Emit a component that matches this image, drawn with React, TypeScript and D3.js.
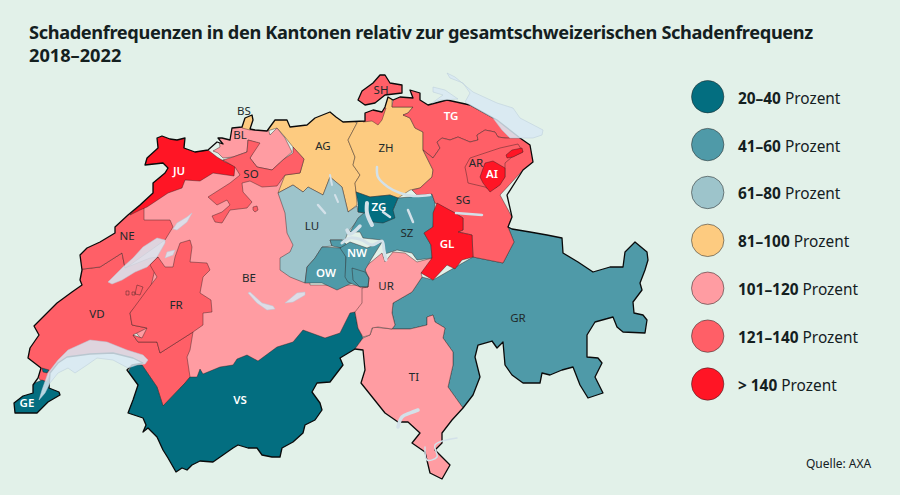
import * as d3 from 'd3';

type Pt = [number, number];

const titleLines = ['Schadenfrequenzen in den Kantonen relativ zur gesamtschweizerischen Schadenfrequenz', '2018–2022'];
const bandLabels = ['20–40', '41–60', '61–80', '81–100', '101–120', '121–140', '> 140'];
const bandColors = ['#036e80', '#4f9aa8', '#9dc4cb', '#fdcb80', '#ff9ca2', '#ff5f67', '#ff1525'];
const source = 'Quelle: AXA';

// traced outlines, in the picture's own units (geoIdentity below)
const country: Pt[] = [
  [140,205],[153,193],[153,183],[165,173],[168,168],[163,163],[145,165],[147,158],[158,148],[157,138],[162,136],[170,139],[177,140],[185,138],[184,148],[195,152],[208,150],[217,142],[223,144],[218,138],[222,138],[230,140],[232,128],[242,127],[245,118],[252,115],[253,120],[250,129],[255,130],[267,131],[275,120],[287,120],[290,127],[307,125],[315,118],[330,112],[336,117],[343,122],[365,121],[365,113],[373,110],[382,112],[385,107],[388,97],[393,100],[400,97],[413,98],[410,90],[420,93],[420,100],[428,105],[447,100],[470,105],[497,120],[520,138],[530,145],[533,162],[523,170],[507,195],[512,217],[508,227],[512,229],[530,232],[547,235],[562,238],[563,253],[578,262],[593,272],[610,267],[623,267],[625,252],[635,242],[647,252],[648,260],[645,270],[640,283],[642,290],[633,302],[634,313],[643,315],[647,320],[645,333],[623,332],[617,327],[613,317],[595,322],[587,335],[587,357],[598,358],[602,363],[595,377],[603,393],[588,398],[580,385],[573,367],[562,370],[550,375],[542,373],[540,383],[523,383],[512,375],[505,365],[503,342],[497,348],[492,341],[478,345],[475,357],[480,377],[473,395],[463,408],[452,420],[442,433],[442,443],[435,450],[442,457],[450,465],[442,479],[430,473],[425,452],[412,443],[420,433],[408,422],[398,422],[385,413],[373,398],[361,383],[365,370],[363,350],[355,349],[340,358],[343,365],[330,382],[317,383],[312,392],[320,403],[322,410],[315,420],[305,425],[303,433],[293,442],[282,448],[280,457],[272,457],[262,455],[257,448],[248,448],[238,445],[233,448],[223,455],[213,462],[200,461],[192,465],[187,470],[182,468],[176,472],[168,458],[163,450],[157,437],[148,428],[143,432],[146,425],[143,418],[128,413],[133,400],[138,385],[127,370],[132,365],[143,363],[133,358],[113,353],[90,354],[67,357],[58,363],[50,373],[49,388],[59,392],[60,395],[48,402],[37,413],[25,413],[15,413],[14,403],[23,396],[33,393],[33,385],[38,378],[41,368],[28,358],[30,348],[39,335],[34,326],[57,303],[72,292],[82,285],[80,280],[82,270],[80,255],[87,248],[100,242],[115,233],[115,227],[128,215],
];
const schaffhausen: Pt[] = [[358,100],[362,91],[373,83],[380,75],[385,75],[390,83],[402,85],[402,93],[385,95],[375,103],[365,105]];

// painted in this order, later cantons cover the rough edges of earlier ones
const cantonNames = ['BE','GR','AG','ZH','LU','VD','NE','FR','VS','TI','UR','SZ','ZG','OW','NW','TG','SG','AR','AI','GL','JU','BL','SO','BS','SH','GE'];
const cantonBand = [4,1,3,3,2,5,5,5,0,4,4,1,0,1,1,5,5,5,6,6,6,4,5,3,5,0];
const cantonRings: Pt[][][] = [
  [[[140,205],[220,160],[300,165],[310,285],[365,285],[370,300],[360,340],[190,400],[110,300]]],
  [[[433,280],[473,257],[503,263],[514,242],[508,227],[700,200],[700,420],[460,420],[463,408],[448,387],[453,365],[453,352],[443,338],[445,328],[435,322],[433,315],[427,317],[427,325],[410,329],[392,329],[395,325],[392,313],[393,303],[412,292],[422,277]]],
  [[[267,131],[275,115],[287,115],[307,115],[330,105],[343,115],[357,123],[348,140],[355,157],[353,165],[360,175],[355,183],[356,192],[357,205],[348,212],[342,187],[330,177],[323,195],[308,187],[303,192],[293,185],[278,193],[285,175],[300,173],[304,159],[293,147],[285,137],[277,128]]],
  [[[357,123],[357,110],[372,105],[385,95],[392,95],[392,107],[413,107],[408,113],[403,115],[410,118],[415,128],[423,132],[423,150],[433,170],[432,177],[420,188],[410,190],[398,198],[390,195],[370,197],[356,192],[355,183],[360,175],[353,165],[355,157],[348,140]]],
  [[[278,193],[293,185],[303,192],[308,187],[323,195],[330,177],[342,187],[348,212],[357,206],[358,212],[365,213],[358,220],[348,232],[345,240],[330,240],[332,246],[322,247],[315,258],[307,267],[305,283],[290,277],[280,270],[280,258],[290,252],[293,245],[287,233],[285,213]]],
  [[[70,285],[75,270],[100,267],[122,253],[125,268],[150,258],[158,257],[150,290],[130,313],[132,325],[147,328],[133,335],[138,342],[157,342],[160,353],[193,332],[190,350],[187,357],[190,377],[185,383],[163,406],[157,387],[142,365],[132,365],[60,370],[50,375],[47,382],[40,380],[36,372],[20,350],[20,300]]],
  [[[75,270],[100,267],[122,253],[125,268],[130,265],[165,240],[173,227],[170,220],[144,220],[144,208],[130,200],[70,240]]],
  [[[158,257],[165,267],[173,267],[175,257],[180,243],[190,240],[192,247],[190,262],[207,263],[210,270],[203,277],[200,293],[211,300],[212,312],[203,313],[203,325],[193,332],[160,353],[157,342],[138,342],[133,335],[142,338],[147,328],[132,325],[130,313],[147,290],[157,277],[150,265]]],
  [[[132,365],[142,365],[157,387],[163,406],[185,383],[190,377],[197,377],[200,369],[203,374],[220,367],[233,365],[237,359],[247,355],[258,361],[277,347],[293,342],[303,330],[325,338],[340,333],[350,313],[355,312],[358,328],[363,338],[355,349],[345,470],[170,490],[100,420]]],
  [[[355,349],[363,338],[370,335],[373,327],[392,329],[410,329],[427,325],[427,317],[433,315],[435,322],[445,328],[443,338],[453,352],[453,365],[448,387],[463,408],[480,420],[460,490],[420,490],[360,420]]],
  [[[365,267],[382,253],[385,262],[393,252],[405,253],[417,262],[432,258],[432,267],[421,273],[422,277],[412,292],[393,303],[392,313],[395,325],[392,329],[378,327],[372,328],[370,335],[363,337],[358,328],[355,312],[362,303],[362,288],[368,287]]],
  [[[398,198],[410,197],[432,194],[435,203],[433,227],[424,233],[431,245],[432,258],[417,260],[412,253],[397,250],[385,254],[382,240],[363,238],[360,232],[350,232],[358,218],[365,212],[393,210]]],
  [[[356,192],[370,197],[390,195],[398,198],[393,210],[395,218],[383,223],[373,222],[365,213],[358,212],[358,203]]],
  [[[322,247],[342,248],[346,257],[346,277],[352,283],[337,290],[322,283],[305,283],[307,267],[315,258]],[[330,240],[342,240],[347,245],[342,248],[332,246]]],
  [[[340,248],[350,242],[367,248],[382,242],[372,258],[365,270],[369,278],[368,287],[360,287],[348,282],[345,277],[346,257]],[[352,268],[365,272],[369,278],[368,287],[360,287],[353,280]]],
  [[[393,100],[393,90],[430,85],[470,95],[510,120],[525,140],[505,138],[498,137],[495,132],[485,130],[477,135],[478,140],[470,142],[458,137],[450,140],[442,138],[437,142],[440,148],[433,158],[423,150],[423,132],[415,128],[410,118],[403,115],[408,113],[413,107],[392,107]]],
  [[[412,190],[420,188],[432,177],[433,170],[423,150],[433,158],[440,148],[437,142],[442,138],[450,140],[458,137],[470,142],[478,140],[477,135],[485,130],[495,132],[498,137],[505,138],[520,138],[540,145],[540,162],[523,170],[500,195],[512,217],[508,227],[514,242],[503,263],[473,257],[472,235],[458,232],[463,230],[463,218],[455,213],[435,203],[432,194],[417,195]]],
  [[[465,167],[470,158],[500,148],[518,144],[523,152],[512,157],[505,163],[505,177],[497,187],[490,190],[485,187],[468,183],[467,177]]],
  [[[480,177],[485,163],[493,161],[505,168],[505,177],[500,185],[490,192],[483,183]],[[506,155],[512,150],[522,148],[523,152],[513,157],[507,158]]],
  [[[437,203],[455,213],[463,218],[463,230],[458,232],[472,235],[473,257],[462,260],[455,269],[447,265],[433,280],[421,273],[432,258],[431,245],[424,233],[433,227],[433,213]]],
  [[[130,215],[153,193],[153,183],[165,173],[168,168],[163,163],[145,165],[147,158],[158,148],[157,130],[185,130],[184,148],[195,152],[208,150],[217,157],[225,162],[235,166],[234,176],[213,173],[200,181],[185,180],[182,188],[168,193],[147,207],[140,210]]],
  [[[213,151],[220,147],[218,135],[230,135],[232,125],[250,125],[267,125],[270,135],[277,128],[285,138],[292,152],[285,158],[272,170],[257,167],[250,158],[258,143],[248,140],[247,152],[233,157],[223,158],[218,153]]],
  [[[248,140],[260,143],[250,158],[257,167],[272,170],[284,159],[293,153],[293,147],[304,159],[300,173],[285,175],[277,186],[262,187],[250,181],[242,183],[243,192],[252,202],[247,208],[230,210],[222,223],[215,222],[212,216],[222,212],[230,205],[227,200],[217,205],[208,197],[230,183],[240,175],[235,167],[223,160],[233,157],[247,152]],[[253,207],[257,206],[258,210],[255,212],[253,210]]],
  [[[242,128],[245,115],[255,112],[255,130],[250,130]]],
  [[[355,100],[362,85],[380,70],[390,75],[405,85],[402,95],[385,96],[375,105],[362,108]],[[362,108],[373,106],[386,108],[382,120],[378,125],[372,121],[363,122]]],
  [[[42,380],[47,382],[50,375],[60,385],[70,395],[40,420],[5,415],[10,395],[30,385]],[[42,368],[49,370],[47,373],[43,372]]],
];
const labelNames = ['BS','BL','JU','SO','AG','ZH','SH','TG','AR','AI','SG','GL','SZ','ZG','LU','OW','NW','UR','NE','FR','VD','BE','VS','GE','TI','GR'];
const labelAnchors: Pt[] = [[244,111],[240,135],[179,171],[251,174],[323,146],[386,148],[381,90],[451,116],[476,163],[492,174],[463,200],[447,244],[407,233],[379,207],[312,226],[326,273],[357,253],[386,286],[127,236],[176,305],[97,314],[249,278],[240,400],[27,403],[414,377],[518,318]];
const whiteLabels = ['JU','AI','GL','ZG','OW','NW','VS','GE','TG'];

const enclaves: Pt[][] = [
  [[126,291],[129,291],[129,295],[126,295]],
  [[132,292],[135,292],[135,295],[132,295]],
  [[137,285],[143,287],[140,295],[135,294]],
];

const lakeAreas: Pt[][] = [
  [[39,400],[42,390],[48,373],[58,360],[68,350],[90,340],[107,342],[127,350],[143,355],[148,360],[145,364],[137,365],[128,368],[113,360],[97,358],[87,365],[75,373],[68,368],[58,373],[50,383],[45,393]],
  [[447,73],[455,77],[473,92],[497,103],[513,108],[520,118],[543,130],[542,135],[533,138],[520,138],[510,138],[502,130],[493,118],[470,105],[465,102],[470,93],[463,83],[450,78]],
  [[433,87],[445,90],[458,99],[440,100],[432,103],[443,95],[433,92]],
  [[192,213],[187,222],[177,230],[173,229],[177,223],[187,217]],
  [[165,240],[157,238],[143,247],[133,258],[123,267],[110,280],[108,282],[112,284],[122,280],[135,272],[147,267],[157,257],[165,243]],
  [[175,250],[167,252],[165,258],[173,255]],
  [[248,293],[257,303],[267,310],[275,309],[273,306],[262,303],[250,292]],
  [[305,292],[297,293],[285,303],[293,302],[305,295]],
];
const lakeLines: { width: number; pts: Pt[] }[] = [
  { width: 2.5, pts: [[377,167],[378,177],[388,187],[400,193],[413,196],[430,195]] },
  { width: 2.5, pts: [[456,213],[482,215]] },
  { width: 2.5, pts: [[318,205],[325,213]] },
  { width: 2, pts: [[335,195],[338,202]] },
  { width: 2, pts: [[330,175],[332,185]] },
  { width: 4, pts: [[367,203],[367,213],[372,225]] },
  { width: 2.5, pts: [[383,212],[390,217]] },
  { width: 2.5, pts: [[408,210],[413,222]] },
  { width: 3.5, pts: [[360,226],[350,234],[347,230]] },
  { width: 3, pts: [[342,243],[350,238],[362,240],[372,245],[382,241],[384,250],[386,260]] },
  { width: 3.5, pts: [[418,410],[410,413],[402,417],[398,427]] },
  { width: 1.5, pts: [[425,447],[427,460],[437,457],[435,445],[457,438]] },
];

const path = d3.geoPath(d3.geoIdentity());
const open = d3.line().curve(d3.curveCatmullRom.alpha(0.5));
const color = d3.scaleOrdinal<number, string>().domain(d3.range(bandColors.length)).range(bandColors);
const legendY = d3.scalePoint<string>().domain(bandLabels).range([96.7, 384]);

const closeRing = (r: Pt[]): Pt[] => [...r, r[0]];
const rings = (rs: Pt[][]) => path({ type: 'MultiPolygon', coordinates: rs.map(r => [closeRing(r)]) } as any) || '';
const sans = '"Noto Sans", sans-serif';
const ink = '#14201f';

export default function App() {
  return (
    <svg width={900} height={495} viewBox="0 0 900 495" style={{ position: 'absolute', left: 0, top: 0 }} fontFamily={sans}>
      <rect width={900} height={495} fill="#e2f1e9" />
      <defs>
        <clipPath id="ch">
          <path d={rings([country, schaffhausen])} />
        </clipPath>
      </defs>
      {titleLines.map((t, i) => (
        <text key={t} x={29} y={39 + i * 23} fontSize={18.2} fontWeight={700} fill={ink} letterSpacing={i === 0 ? -0.36 : 0}>{t}</text>
      ))}
      <g clipPath="url(#ch)">
        {cantonNames.map((name, i) => (
          <path key={name} d={rings(cantonRings[i])} fill={color(cantonBand[i])} stroke="#2b1c1c" strokeOpacity={0.6} strokeWidth={0.7} strokeLinejoin="round" />
        ))}
        <path d={rings(enclaves)} fill="none" stroke="#2b1c1c" strokeOpacity={0.6} strokeWidth={0.7} />
      </g>
      <path d={rings([country, schaffhausen])} fill="none" stroke="#0a0a0a" strokeWidth={1.3} strokeLinejoin="round" />
      <path d={rings(lakeAreas)} fill="#d8e9f3" fillOpacity={0.85} stroke="#b9cbd8" strokeWidth={0.5} />
      {lakeLines.map((l, i) => (
        <path key={i} d={open(l.pts) || ''} fill="none" stroke="#d3e1e9" strokeWidth={l.width} strokeLinecap="round" strokeLinejoin="round" />
      ))}
      {labelNames.map((name, i) => (
        <text key={name} x={labelAnchors[i][0]} y={labelAnchors[i][1] + 4} textAnchor="middle" fontSize={11.5}
          fontWeight={whiteLabels.includes(name) ? 600 : 400} fill={whiteLabels.includes(name) ? '#ffffff' : '#222a2b'}>{name}</text>
      ))}
      {bandLabels.map((b, i) => (
        <g key={b}>
          <circle cx={707.7} cy={legendY(b)} r={16.2} fill={bandColors[i]} stroke="#222" strokeOpacity={0.65} strokeWidth={0.8} />
          <text x={738} y={(legendY(b) as number) + 7} fontSize={15.4} fill={ink}>
            <tspan fontWeight={700}>{b}</tspan> Prozent
          </text>
        </g>
      ))}
      <text x={806} y={468} fontSize={12} fill={ink}>{source}</text>
    </svg>
  );
}
